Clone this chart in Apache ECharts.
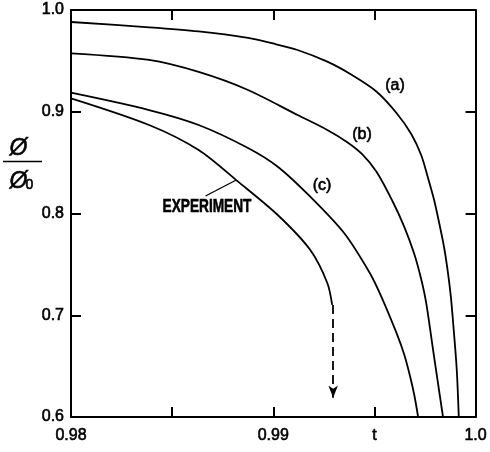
<!DOCTYPE html>
<html>
<head>
<meta charset="utf-8">
<script src="https://cdn.jsdelivr.net/npm/echarts@6/dist/echarts.min.js"></script>
<style>
html,body{margin:0;padding:0;background:#fff;}
#chart{width:490px;height:452px;}
</style>
</head>
<body>
<div id="chart"></div>
<script>
// x-axis: reduced temperature t ; y-axis: phi/phi0
const xTicks = [0.98, 0.985, 0.99, 0.995, 1.0];
const xTickLabels = ['0.98', '', '0.99', 't', '1.0'];
const yTicks = [0.6, 0.7, 0.8, 0.9, 1.0];
const yTickLabels = ['0.6', '0.7', '0.8', '0.9', '1.0'];

const curveA_t   = [0.98, 0.98386, 0.98631, 0.98875, 0.98998, 0.9912, 0.99267, 0.99389, 0.99511, 0.99609, 0.99682, 0.99731, 0.99765, 0.99795, 0.99819, 0.99844, 0.99863, 0.99878, 0.99892, 0.99907, 0.99917];
const curveA_phi = [0.9882, 0.9830, 0.9789, 0.9725, 0.9671, 0.9607, 0.9492, 0.9361, 0.9197, 0.8988, 0.8782, 0.8575, 0.8349, 0.8133, 0.7917, 0.7671, 0.7425, 0.7179, 0.6855, 0.6462, 0.6];

const curveB_t   = [0.98, 0.98386, 0.98631, 0.98875, 0.9912, 0.99267, 0.99364, 0.99438, 0.99511, 0.99589, 0.99648, 0.99697, 0.99731, 0.99756, 0.99790, 0.99839];
const curveB_phi = [0.9574, 0.9509, 0.9391, 0.9214, 0.8968, 0.8821, 0.8703, 0.8585, 0.8408, 0.8123, 0.7867, 0.7602, 0.7356, 0.7120, 0.6658, 0.6];

const curveC_t   = [0.98, 0.98386, 0.98631, 0.98875, 0.99022, 0.99183, 0.9935, 0.99477, 0.99535, 0.99609, 0.99648, 0.99677, 0.99697, 0.99716];
const curveC_phi = [0.9187, 0.9017, 0.8870, 0.8644, 0.8460, 0.8165, 0.7808, 0.7415, 0.7179, 0.6826, 0.6609, 0.6393, 0.6216, 0.6];

const expt_t   = [0.98, 0.98386, 0.98631, 0.98826, 0.99022, 0.99183, 0.99267, 0.99291];
const expt_phi = [0.9132, 0.8870, 0.8624, 0.8313, 0.7985, 0.7641, 0.7317, 0.7101];

// dashed arrow continuing the experimental curve
const arrow_t   = [0.99296, 0.99296];
const arrow_phi = [0.7101, 0.6190];

const curveLabels = ['(a)', '(b)', '(c)', 'EXPERIMENT'];

function pairs(xs, ys){ return xs.map((x,i)=>[x, ys[i]]); }

const FONT = "'Liberation Sans', Arial, sans-serif";
const chart = echarts.init(document.getElementById('chart'));

function fmtX(v){ const k = xTicks.findIndex(t=>Math.abs(t-v)<1e-7); return k>=0 ? xTickLabels[k] : ''; }
function fmtY(v){ const k = yTicks.findIndex(t=>Math.abs(t-v)<1e-7); return k>=0 ? yTickLabels[k] : ''; }

const axisLine = {show:true, lineStyle:{color:'#000', width:2}};
const tick = {show:true, inside:true, length:10, lineStyle:{color:'#000', width:2}};
const lbl = {color:'#000', fontSize:16, fontFamily:FONT, textBorderColor:'#000', textBorderWidth:0.6};

const lineStyle = {color:'#000', width:1.8};
function curve(data){
  return {type:'line', data, smooth:0.3, showSymbol:false, symbol:'none', lineStyle, silent:true, animation:false, z:3};
}
function txt(x, y, s, font, extra){
  return Object.assign({type:'text', x, y, style:{text:s, font, fill:'#000', stroke:'#000', lineWidth:0.6, align:'center', verticalAlign:'middle'}}, extra||{});
}

const option = {
  animation:false,
  grid:{left:71, right:10, top:10, bottom:35, containLabel:false},
  xAxis:[
    {type:'value', min:0.98, max:1.0, interval:0.005, position:'bottom',
     axisLine, axisTick:tick, splitLine:{show:false},
     axisLabel:Object.assign({margin:11, formatter:fmtX}, lbl)},
    {type:'value', min:0.98, max:1.0, interval:0.005, position:'top',
     axisLine, axisTick:tick, splitLine:{show:false}, axisLabel:{show:false}}
  ],
  yAxis:[
    {type:'value', min:0.6, max:1.0, interval:0.1, position:'left',
     axisLine, axisTick:tick, splitLine:{show:false},
     axisLabel:Object.assign({margin:7, formatter:fmtY}, lbl)},
    {type:'value', min:0.6, max:1.0, interval:0.1, position:'right',
     axisLine, axisTick:tick, splitLine:{show:false}, axisLabel:{show:false}}
  ],
  series:[
    curve(pairs(curveA_t, curveA_phi)),
    curve(pairs(curveB_t, curveB_phi)),
    curve(pairs(curveC_t, curveC_phi)),
    Object.assign(curve(pairs(expt_t, expt_phi)), {
      markLine:{
        silent:true, animation:false,
        symbol:['none','none'],
        label:{show:false},
        lineStyle:{color:'#000', width:1.3, type:'solid'},
        data:[[{coord:[0.98665, 0.8172]}, {coord:[0.98817, 0.8329]}]]
      }
    }),
    {type:'line', data:[], silent:true, animation:false,
     markLine:{
       silent:true, animation:false,
       symbol:['none','arrow'], symbolSize:[7,12],
       label:{show:false},
       lineStyle:{color:'#000', width:1.8, type:[9,5]},
       data:[[{coord:[arrow_t[0], arrow_phi[0]]}, {coord:[arrow_t[1], arrow_phi[1]]}]]
     }}
  ],
  graphic:[
    txt(395, 86, curveLabels[0], '16px '+FONT),
    txt(362, 135, curveLabels[1], '16px '+FONT),
    txt(322, 185.5, curveLabels[2], '16px '+FONT),
    txt(207, 206.5, curveLabels[3], 'bold 19px '+FONT, {scaleX:0.72}),
    // y-axis title: phi / phi0
    txt(18.5, 149, 'Ø', 'italic 23px '+FONT),
    {type:'line', shape:{x1:3, y1:161.5, x2:42, y2:161.5}, style:{stroke:'#000', lineWidth:1.6}},
    txt(18.5, 181.5, 'Ø', 'italic 23px '+FONT),
    txt(29.5, 185.5, '0', '14px '+FONT)
  ]
};
chart.setOption(option);
</script>
</body>
</html>
